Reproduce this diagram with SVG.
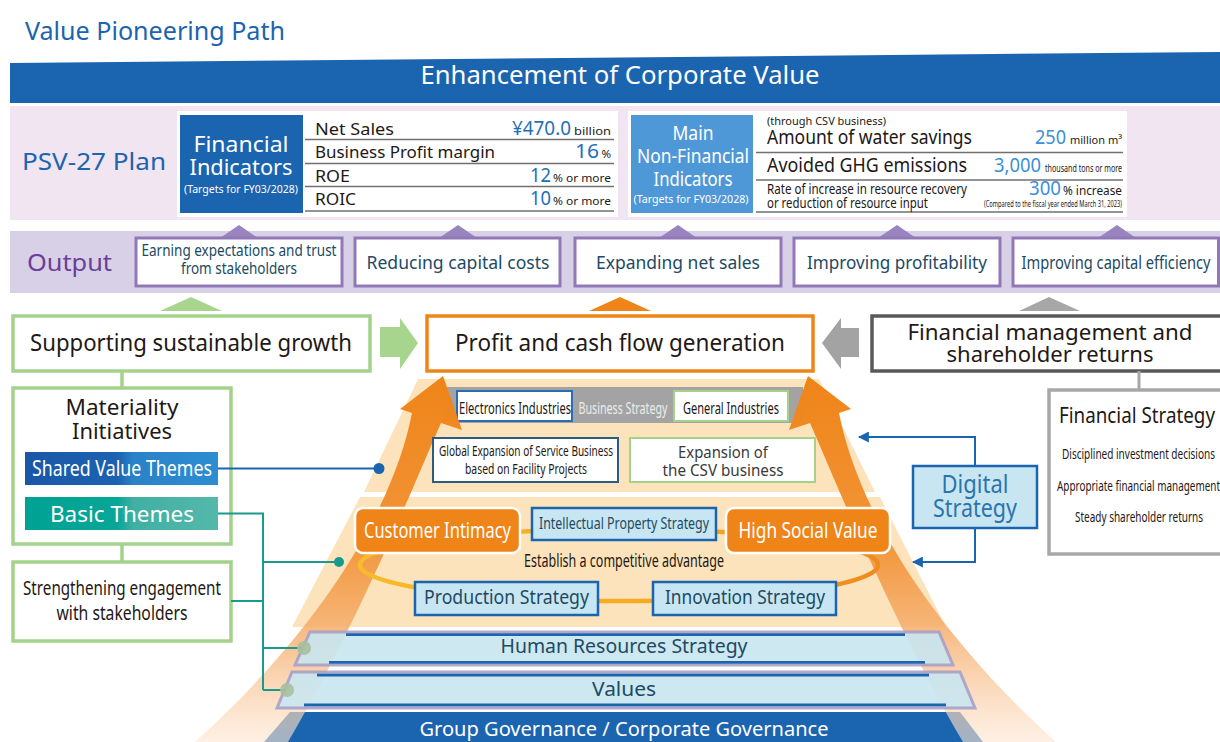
<svg xmlns="http://www.w3.org/2000/svg" width="1220" height="742" viewBox="0 0 1220 742">
<defs>
<style>
text{font-family:"Noto Sans","Open Sans","Liberation Sans",sans-serif;fill:#231815}
.c{text-anchor:middle}
.e{text-anchor:end}
.w{fill:#fff}
.bl{fill:#1b64b0}
.num{fill:#1f70b8}
.num2{fill:#3b8fd6}
.dk{fill:#1d4a63}
.obox{fill:#fff;stroke:#9179b8;stroke-width:3}
.otri{fill:#9a84c0}
.gbox{fill:#fff;stroke:#a5d28a;stroke-width:3.5}
.lb{fill:#c8e6f2;stroke:#1b64b0;stroke-width:2.5}
.rule{stroke:#707070;stroke-width:1.6}
.orng{fill:#ef8418;stroke:#fff;stroke-width:2.5}
.band{fill:#c8e5f0;fill-opacity:.9}
.bandline{stroke:#1b64b0;stroke-width:3}
.bandedge{fill:none;stroke:#a49cc6;stroke-width:3;stroke-opacity:.85}
</style>
<linearGradient id="gShared" x1="0" y1="0" x2="1" y2="0">
<stop offset="0" stop-color="#1a57a6"/><stop offset="0.48" stop-color="#1c62b1"/><stop offset="0.56" stop-color="#2a82c8"/><stop offset="1" stop-color="#2d8dd2"/>
</linearGradient>
<linearGradient id="gBasic" x1="0" y1="0" x2="1" y2="0">
<stop offset="0" stop-color="#00a293"/><stop offset="0.48" stop-color="#08a697"/><stop offset="0.56" stop-color="#3fb0a3"/><stop offset="1" stop-color="#55b8ab"/>
</linearGradient>
<linearGradient id="gArrow" gradientUnits="userSpaceOnUse" x1="0" y1="376" x2="0" y2="742">
<stop offset="0" stop-color="#ef8418"/><stop offset="0.45" stop-color="#f19030" stop-opacity="0.95"/><stop offset="0.7" stop-color="#f5b070" stop-opacity="0.85"/><stop offset="1" stop-color="#fde6d2" stop-opacity="0.6"/>
</linearGradient>
<linearGradient id="gRing" x1="0" y1="0" x2="1" y2="0">
<stop offset="0" stop-color="#f7bb2b"/><stop offset="0.6" stop-color="#f5a923"/><stop offset="1" stop-color="#ef8a1e"/>
</linearGradient>
<marker id="mBlue" viewBox="0 0 10 10" refX="9" refY="5" markerWidth="11" markerHeight="11" markerUnits="userSpaceOnUse" orient="auto">
<path d="M0,0 L10,5 L0,10 z" fill="#1b64b0"/>
</marker>
</defs>

<rect width="1220" height="742" fill="#fff"/>

<!-- title and corporate value banner -->
<g id="title">
<text x="25" y="40" font-size="25" textLength="260" lengthAdjust="spacingAndGlyphs" class="bl">Value Pioneering Path</text>
</g>
<g id="corporate-value">
<polygon points="10,63 1220,52 1220,103 10,103" fill="#1b64b0"/>
<text x="620" y="84" font-size="25" class="c w" textLength="399" lengthAdjust="spacingAndGlyphs">Enhancement of Corporate Value</text>
</g>

<!-- plan band -->
<g id="psv27-plan">
<rect x="10" y="106" width="1210" height="114" fill="#f1e5f1"/>
<text x="22" y="170" font-size="24" class="bl" textLength="144" lengthAdjust="spacingAndGlyphs">PSV-27 Plan</text>
</g>

<g id="financial-indicators">
<rect x="177" y="111" width="441" height="106" fill="#fff"/>
<rect x="180" y="115" width="123" height="98" fill="#1b64b0"/>
<text x="241" y="152" font-size="22" class="c w" textLength="95" lengthAdjust="spacingAndGlyphs">Financial</text>
<text x="241" y="175" font-size="22" class="c w" textLength="103" lengthAdjust="spacingAndGlyphs">Indicators</text>
<text x="241" y="193" font-size="10.5" class="c w" textLength="114" lengthAdjust="spacingAndGlyphs">(Targets for FY03/2028)</text>
<line x1="305" y1="139.5" x2="614" y2="139.5" class="rule"/>
<line x1="305" y1="163.5" x2="614" y2="163.5" class="rule"/>
<line x1="305" y1="186.5" x2="614" y2="186.5" class="rule"/>
<line x1="305" y1="211" x2="614" y2="211" class="rule"/>
<text x="315" y="135" font-size="17" textLength="79" lengthAdjust="spacingAndGlyphs">Net Sales</text>
<text x="315" y="158" font-size="17" textLength="180" lengthAdjust="spacingAndGlyphs">Business Profit margin</text>
<text x="315" y="182" font-size="17" textLength="35" lengthAdjust="spacingAndGlyphs">ROE</text>
<text x="315" y="205" font-size="17" textLength="41" lengthAdjust="spacingAndGlyphs">ROIC</text>
<text x="571" y="135" font-size="19" class="e num" textLength="59" lengthAdjust="spacingAndGlyphs">¥470.0</text>
<text x="611" y="135" font-size="11.5" class="e" textLength="37" lengthAdjust="spacingAndGlyphs">billion</text>
<text x="599" y="158" font-size="19" class="e num" textLength="24" lengthAdjust="spacingAndGlyphs">16</text>
<text x="611" y="158" font-size="11.5" class="e">%</text>
<text x="551" y="182" font-size="19" class="e num" textLength="21" lengthAdjust="spacingAndGlyphs">12</text>
<text x="611" y="182" font-size="11.5" class="e" textLength="58" lengthAdjust="spacingAndGlyphs">% or more</text>
<text x="551" y="205" font-size="19" class="e num" textLength="21" lengthAdjust="spacingAndGlyphs">10</text>
<text x="611" y="205" font-size="11.5" class="e" textLength="58" lengthAdjust="spacingAndGlyphs">% or more</text>
</g>

<g id="non-financial-indicators">
<rect x="628" y="111" width="499" height="106" fill="#fff"/>
<rect x="631" y="115" width="122" height="98" fill="#4f98d7"/>
<text x="693" y="140" font-size="20" class="c w" textLength="41" lengthAdjust="spacingAndGlyphs">Main</text>
<text x="693" y="163" font-size="20" class="c w" textLength="112" lengthAdjust="spacingAndGlyphs">Non-Financial</text>
<text x="693" y="186" font-size="20" class="c w" textLength="79" lengthAdjust="spacingAndGlyphs">Indicators</text>
<text x="691" y="203" font-size="10.5" class="c w" textLength="115" lengthAdjust="spacingAndGlyphs">(Targets for FY03/2028)</text>
<line x1="756" y1="152.5" x2="1123" y2="152.5" class="rule"/>
<line x1="756" y1="180" x2="1123" y2="180" class="rule"/>
<line x1="756" y1="212" x2="1123" y2="212" class="rule"/>
<text x="767" y="125" font-size="11" textLength="119" lengthAdjust="spacingAndGlyphs">(through CSV business)</text>
<text x="767" y="144" font-size="19" textLength="205" lengthAdjust="spacingAndGlyphs">Amount of water savings</text>
<text x="767" y="172" font-size="19" textLength="200" lengthAdjust="spacingAndGlyphs">Avoided GHG emissions</text>
<text x="767" y="194" font-size="15" textLength="200" lengthAdjust="spacingAndGlyphs">Rate of increase in resource recovery</text>
<text x="767" y="208" font-size="15" textLength="161" lengthAdjust="spacingAndGlyphs">or reduction of resource input</text>
<text x="1066" y="144" font-size="20" class="e num2" textLength="31" lengthAdjust="spacingAndGlyphs">250</text>
<text x="1122" y="144" font-size="11.5" class="e" textLength="52" lengthAdjust="spacingAndGlyphs">million m³</text>
<text x="1041" y="172" font-size="20" class="e num2" textLength="47" lengthAdjust="spacingAndGlyphs">3,000</text>
<text x="1122" y="172" font-size="10" class="e" textLength="77" lengthAdjust="spacingAndGlyphs">thousand tons or more</text>
<text x="1061" y="195" font-size="20" class="e num2" textLength="32" lengthAdjust="spacingAndGlyphs">300</text>
<text x="1122" y="195" font-size="13" class="e" textLength="59" lengthAdjust="spacingAndGlyphs">% increase</text>
<text x="1122" y="207" font-size="8" class="e" textLength="138" lengthAdjust="spacingAndGlyphs">(Compared to the fiscal year ended March 31, 2023)</text>
</g>

<!-- output band -->
<g id="output">
<rect x="10" y="231" width="1210" height="62" fill="#d8d0e7"/>
<text x="27" y="271" font-size="24" textLength="85" lengthAdjust="spacingAndGlyphs" style="fill:#6b3e99">Output</text>
</g>
<g id="out-trust">
<polygon points="220,238 239,225 258,238" class="otri"/>
<rect x="136" y="238" width="206" height="48" class="obox"/>
<text x="239" y="256" font-size="16" class="c dk" textLength="195" lengthAdjust="spacingAndGlyphs">Earning expectations and trust</text>
<text x="239" y="274" font-size="16" class="c dk" textLength="116" lengthAdjust="spacingAndGlyphs">from stakeholders</text>
</g>
<g id="out-capital-costs">
<polygon points="439,238 458,225 477,238" class="otri"/>
<rect x="355" y="238" width="205" height="48" class="obox"/>
<text x="458" y="269" font-size="18" class="c dk" textLength="183" lengthAdjust="spacingAndGlyphs">Reducing capital costs</text>
</g>
<g id="out-net-sales">
<polygon points="659,238 678,225 697,238" class="otri"/>
<rect x="575" y="238" width="206" height="48" class="obox"/>
<text x="678" y="269" font-size="18" class="c dk" textLength="164" lengthAdjust="spacingAndGlyphs">Expanding net sales</text>
</g>
<g id="out-profitability">
<polygon points="878,238 897,225 916,238" class="otri"/>
<rect x="794" y="238" width="206" height="48" class="obox"/>
<text x="897" y="269" font-size="18" class="c dk" textLength="180" lengthAdjust="spacingAndGlyphs">Improving profitability</text>
</g>
<g id="out-capital-efficiency">
<polygon points="1098,238 1117,225 1136,238" class="otri"/>
<rect x="1013" y="238" width="205.5" height="48" class="obox"/>
<text x="1116" y="269" font-size="18" class="c dk" textLength="189" lengthAdjust="spacingAndGlyphs">Improving capital efficiency</text>
</g>

<!-- third row -->
<g id="sustainable-growth">
<polygon points="160,311 191,297 222,311" fill="#a8d58e"/>
<rect x="13" y="316" width="357" height="55" class="gbox"/>
<text x="191" y="351" font-size="23" class="c" textLength="322" lengthAdjust="spacingAndGlyphs">Supporting sustainable growth</text>
<polygon points="380,327 400,327 400,318 418,343 400,369 400,357 380,357" fill="#a8d58e"/>
</g>
<g id="profit-cash-flow">
<polygon points="589,311 620,297 651,311" fill="#ef8418"/>
<rect x="427" y="316" width="386" height="55" fill="#fff" stroke="#ef8418" stroke-width="3.5"/>
<text x="620" y="351" font-size="23" class="c" textLength="330" lengthAdjust="spacingAndGlyphs">Profit and cash flow generation</text>
</g>
<g id="financial-management">
<polygon points="1019,311 1049,297 1080,311" fill="#a7a7a7"/>
<rect x="872" y="316" width="352" height="55" fill="#fff" stroke="#595959" stroke-width="3.5"/>
<text x="1050" y="340" font-size="22" class="c" textLength="285" lengthAdjust="spacingAndGlyphs">Financial management and</text>
<text x="1050" y="362" font-size="22" class="c" textLength="207" lengthAdjust="spacingAndGlyphs">shareholder returns</text>
<polygon points="859,328 841,328 841,318 822,343 841,369 841,357 859,357" fill="#a3a3a3"/>
</g>

<!-- mountain base -->
<g id="mountain">
<polygon points="418,379 819,379 875,492 364,492" fill="#fde3bc"/>
<polygon points="360,497 880,497 946,627 292,627" fill="#fde3bc"/>
</g>

<g id="business-strategy">
<rect x="444" y="387" width="359" height="36" fill="#a3a3a3"/>
<rect x="457" y="391" width="115" height="30" fill="#fff" stroke="#2a6cb5" stroke-width="2"/>
<text x="515" y="414" font-size="16" class="c" textLength="112" lengthAdjust="spacingAndGlyphs">Electronics Industries</text>
<text x="623" y="414" font-size="16" class="c" style="fill:#ececec" textLength="89" lengthAdjust="spacingAndGlyphs">Business Strategy</text>
<rect x="674" y="391" width="114" height="30" fill="#fff" stroke="#a5d28a" stroke-width="2"/>
<text x="731" y="414" font-size="16" class="c" textLength="96" lengthAdjust="spacingAndGlyphs">General Industries</text>
</g>

<g id="governance">
<polygon points="290,712 960,712 983,742 264,742" fill="#1b64b0"/>
<text x="624" y="736" font-size="20" class="c w" textLength="409" lengthAdjust="spacingAndGlyphs">Group Governance / Corporate Governance</text>
</g>

<!-- upward flow arrows -->
<g id="flow-arrows">
<path id="arrow-left" d="M443,376 L462,430 L441,423 C420,470 360,620 288,742 L195,742 C330,620 395,500 412,413 L400,409 Z" fill="url(#gArrow)"/>
<use href="#arrow-left" transform="matrix(-1 0 0 1 1251 0)"/>
</g>

<g id="service-business">
<rect x="433" y="438" width="185" height="44" fill="#fff" stroke="#2f5c7c" stroke-width="2"/>
<text x="526" y="456" font-size="14" class="c" textLength="174" lengthAdjust="spacingAndGlyphs">Global Expansion of Service Business</text>
<text x="526" y="474" font-size="14" class="c" textLength="122" lengthAdjust="spacingAndGlyphs">based on Facility Projects</text>
</g>
<g id="csv-business">
<rect x="630" y="438" width="185" height="44" fill="#fff" stroke="#a5d28a" stroke-width="2"/>
<text x="723" y="458" font-size="17" class="c" style="fill:#3a3a3a" textLength="90" lengthAdjust="spacingAndGlyphs">Expansion of</text>
<text x="723" y="476" font-size="17" class="c" style="fill:#3a3a3a" textLength="121" lengthAdjust="spacingAndGlyphs">the CSV business</text>
</g>

<!-- competitive advantage cycle -->
<g id="competitive-advantage">
<ellipse cx="619" cy="565" rx="259" ry="36" fill="none" stroke="url(#gRing)" stroke-width="4.5"/>
<text x="624" y="567" font-size="18" class="c" textLength="200" lengthAdjust="spacingAndGlyphs">Establish a competitive advantage</text>
</g>
<g id="customer-intimacy">
<rect x="355" y="508" width="165" height="45" rx="8" class="orng"/>
<text x="437.5" y="538" font-size="21" class="c w" textLength="147" lengthAdjust="spacingAndGlyphs">Customer Intimacy</text>
</g>
<g id="high-social-value">
<rect x="726" y="508" width="164" height="45" rx="8" class="orng"/>
<text x="808" y="538" font-size="21" class="c w" textLength="139" lengthAdjust="spacingAndGlyphs">High Social Value</text>
</g>
<g id="ip-strategy">
<rect x="532" y="508" width="184" height="32" class="lb"/>
<text x="624" y="529" font-size="16" class="c dk" textLength="170" lengthAdjust="spacingAndGlyphs">Intellectual Property Strategy</text>
</g>
<g id="production-strategy">
<rect x="415" y="582" width="183" height="33" class="lb"/>
<text x="506.5" y="604" font-size="19" class="c dk" textLength="165" lengthAdjust="spacingAndGlyphs">Production Strategy</text>
</g>
<g id="innovation-strategy">
<rect x="653" y="582" width="183" height="33" class="lb"/>
<text x="745" y="604" font-size="19" class="c dk" textLength="160" lengthAdjust="spacingAndGlyphs">Innovation Strategy</text>
</g>

<!-- foundation layers -->
<g id="hr-strategy">
<polygon points="310,632 939,632 953,665 295,665" class="band"/>
<line x1="346" y1="634.5" x2="905" y2="634.5" class="bandline"/>
<line x1="329" y1="662.5" x2="925" y2="662.5" class="bandline"/>
<polygon points="310,632 939,632 953,665 295,665" class="bandedge"/>
<text x="624" y="653" font-size="20" class="c dk" textLength="247" lengthAdjust="spacingAndGlyphs">Human Resources Strategy</text>
</g>
<g id="values">
<polygon points="292,672 960,672 975,708 277,708" class="band"/>
<line x1="317" y1="675" x2="929" y2="675" class="bandline"/>
<line x1="304" y1="705" x2="946" y2="705" class="bandline"/>
<polygon points="292,672 960,672 975,708 277,708" class="bandedge"/>
<text x="624" y="696" font-size="20" class="c dk" textLength="64" lengthAdjust="spacingAndGlyphs">Values</text>
</g>

<!-- left column -->
<g id="materiality">
<rect x="13" y="388" width="218" height="156" class="gbox"/>
<text x="122" y="415" font-size="22" class="c" textLength="113" lengthAdjust="spacingAndGlyphs">Materiality</text>
<text x="122" y="439" font-size="22" class="c" textLength="100" lengthAdjust="spacingAndGlyphs">Initiatives</text>
</g>
<g id="shared-value-themes">
<rect x="25" y="452" width="193" height="33" fill="url(#gShared)"/>
<text x="122" y="476" font-size="21" class="c w" textLength="180" lengthAdjust="spacingAndGlyphs">Shared Value Themes</text>
</g>
<g id="basic-themes">
<rect x="25" y="497" width="193" height="33" fill="url(#gBasic)"/>
<text x="122" y="522" font-size="22" class="c w" textLength="144" lengthAdjust="spacingAndGlyphs">Basic Themes</text>
</g>
<g id="engagement">
<rect x="13" y="562" width="218" height="79" class="gbox"/>
<text x="122" y="595" font-size="19" class="c" textLength="198" lengthAdjust="spacingAndGlyphs">Strengthening engagement</text>
<text x="122" y="620" font-size="19" class="c" textLength="131" lengthAdjust="spacingAndGlyphs">with stakeholders</text>
</g>

<!-- right column -->
<g id="digital-strategy">
<rect x="913" y="466" width="124" height="62" class="lb" stroke-width="3"/>
<text x="975" y="493" font-size="25" class="c" style="fill:#2a74ad" textLength="67" lengthAdjust="spacingAndGlyphs">Digital</text>
<text x="975" y="517" font-size="25" class="c" style="fill:#2a74ad" textLength="84" lengthAdjust="spacingAndGlyphs">Strategy</text>
</g>
<g id="financial-strategy">
<rect x="1049" y="390" width="180" height="164" fill="#fff" stroke="#a8a8a8" stroke-width="3.5"/>
<text x="1059" y="423" font-size="22" textLength="156" lengthAdjust="spacingAndGlyphs">Financial Strategy</text>
<text x="1062" y="459" font-size="15" textLength="153" lengthAdjust="spacingAndGlyphs">Disciplined investment decisions</text>
<text x="1057" y="491" font-size="15" textLength="163" lengthAdjust="spacingAndGlyphs">Appropriate financial management</text>
<text x="1075" y="522" font-size="15" textLength="128" lengthAdjust="spacingAndGlyphs">Steady shareholder returns</text>
</g>

<!-- connectors -->
<g id="connectors" fill="none">
<line x1="122" y1="371" x2="122" y2="388" stroke="#a5d28a" stroke-width="3.5"/>
<line x1="122" y1="544" x2="122" y2="562" stroke="#a5d28a" stroke-width="3.5"/>
<line x1="1139" y1="371" x2="1139" y2="390" stroke="#a8a8a8" stroke-width="3"/>
<line x1="218" y1="468.5" x2="378" y2="468.5" stroke="#1b64b0" stroke-width="2"/>
<circle cx="379" cy="468.5" r="5.5" fill="#1b64b0"/>
<path d="M218,513.5 H263 V690 M263,562 H338 M231,601 H263 M263,648 H302 M263,690 H286" stroke="#1a9a8e" stroke-width="2"/>
<circle cx="339" cy="562" r="5" fill="#1a9a8e"/>
<circle cx="304" cy="648" r="7" fill="#a9bf9f" fill-opacity="0.9"/>
<circle cx="287" cy="690" r="7" fill="#a9bf9f" fill-opacity="0.9"/>
<path d="M975,466 V437 H859" stroke="#1b64b0" stroke-width="2" marker-end="url(#mBlue)"/>
<path d="M975,528 V562 H913" stroke="#1b64b0" stroke-width="2" marker-end="url(#mBlue)"/>
</g>
</svg>
